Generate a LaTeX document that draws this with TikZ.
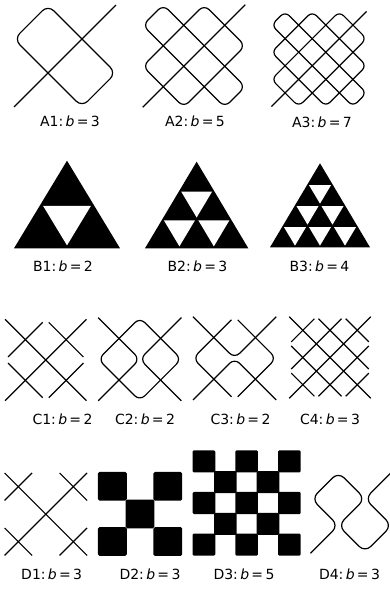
\documentclass[tikz,border=0pt]{standalone}
\usepackage{fontspec}
\setmainfont{DejaVu Sans}
\newcommand\sierptri[6]{%
  \fill (#1,#2) -- ({#1+#3},#2) -- ({#1+#3/2},{#2-#4}) -- cycle;
  \pgfmathtruncatemacro\sierpnm{#5-2}%
  \foreach \jj in {0,...,\sierpnm}{%
    \pgfmathtruncatemacro\sierpim{#5-2-\jj}%
    \foreach \ii in {0,...,\sierpim}{%
      \pgfmathsetmacro\cxx{#1+(\ii+\jj/2+1)*#3/#5}%
      \pgfmathsetmacro\cyy{#2-(\jj+2/3)*#4/#5}%
      \fill[white] ({\cxx-#6*#3/(2*#5)},{\cyy-#6*#4/(3*#5)}) -- ({\cxx+#6*#3/(2*#5)},{\cyy-#6*#4/(3*#5)}) -- ({\cxx},{\cyy+#6*2*#4/(3*#5)}) -- cycle;
    }}}
\begin{document}
\begin{tikzpicture}[x=1pt,y=-1pt, line width=1.2pt, line join=round,
  lab/.style={font=\fontsize{14}{16}\selectfont, inner sep=0pt}]
\useasboundingbox (0,0) rectangle (390,591);
% ---------- A row ----------
\begin{scope}[shift={(65,56)}, rotate=45, x=48pt, y=-48pt]
  \draw[rounded corners=8pt] (-0.5,-1) rectangle (0.5,1);
  \draw (-1.5,0) -- (1.5,0);
\end{scope}
\begin{scope}[shift={(194,56)}, rotate=45, x=29pt, y=-29pt]
  \draw[rounded corners=7pt] (-0.5,-2) rectangle (0.5,2);
  \draw[rounded corners=7pt] (-1.5,-1) rectangle (1.5,1);
  \draw (-2.5,0) -- (2.5,0);
\end{scope}
\begin{scope}[shift={(319,59)}, rotate=45, x=19.2pt, y=-19.2pt]
  \draw[rounded corners=6pt] (-0.5,-3) rectangle (0.5,3);
  \draw[rounded corners=6pt] (-1.5,-2) rectangle (1.5,2);
  \draw[rounded corners=6pt] (-2.5,-1) rectangle (2.5,1);
  \draw (-3.5,0) -- (3.5,0);
\end{scope}
\node[lab] (la1) at (70,121) {A1:\,\textit{b}\,=\,3};
\node[lab] (la2) at (195,121) {A2:\,\textit{b}\,=\,5};
\node[lab] (la3) at (322,122) {A3:\,\textit{b}\,=\,7};
% ---------- B row ----------
\sierptri{14}{248.3}{106}{87.6}{2}{0.9}
\sierptri{145}{248.3}{103.3}{86.6}{3}{0.9}
\sierptri{270}{247.3}{100}{84}{4}{0.88}
\node[lab] (lb1) at (63,266) {B1:\,\textit{b}\,=\,2};
\node[lab] (lb2) at (197.5,266) {B2:\,\textit{b}\,=\,3};
\node[lab] (lb3) at (319.5,266) {B3:\,\textit{b}\,=\,4};
% ---------- C row ----------
\begin{scope}[shift={(45.7,360)}, x=20.35pt, y=-20.35pt]
  \draw (-2,-2) -- (2,2);
  \draw (2,-2) -- (-2,2);
  \draw (-0.15,-1.85) -- (-1.85,-0.15);
  \draw (0.15,-1.85) -- (1.85,-0.15);
  \draw (-1.85,0.15) -- (-0.15,1.85);
  \draw (1.85,0.15) -- (0.15,1.85);
\end{scope}
\begin{scope}[shift={(139.8,359.2)}, x=20.8pt, y=-20.8pt]
  \draw[rounded corners=7pt] (0,-2) -- (2,0) -- (0,2) -- (-2,0) -- cycle;
  \draw[rounded corners=7pt] (-2,-2) -- (0,0) -- (-2,2);
  \draw[rounded corners=7pt] (2,-2) -- (0,0) -- (2,2);
\end{scope}
\begin{scope}[shift={(234.6,358.3)}, x=20.8pt, y=-20.8pt]
  \draw[rounded corners=7pt] (-2,-2) -- (0,0) -- (2,-2);
  \draw[rounded corners=7pt] (-2,2) -- (0,0) -- (2,2);
  \draw[rounded corners=7pt] (-0.15,-1.85) -- (-2,0) -- (-0.15,1.85);
  \draw[rounded corners=7pt] (0.15,-1.85) -- (2,0) -- (0.15,1.85);
\end{scope}
\begin{scope}[shift={(330,357.5)}, x=13.6pt, y=-13.6pt]
  \draw (-3,-3) -- (3,3);
  \draw (-0.85,-2.85) -- (2.85,0.85);
  \draw (1.15,-2.85) -- (2.85,-1.15);
  \draw (-2.85,-0.85) -- (0.85,2.85);
  \draw (-2.85,1.15) -- (-1.15,2.85);
  \draw (-3,3) -- (3,-3);
  \draw (-0.85,2.85) -- (2.85,-0.85);
  \draw (1.15,2.85) -- (2.85,1.15);
  \draw (-2.85,0.85) -- (0.85,-2.85);
  \draw (-2.85,-1.15) -- (-1.15,-2.85);
\end{scope}
\node[lab] (lc1) at (62.5,419) {C1:\,\textit{b}\,=\,2};
\node[lab] (lc2) at (145,419) {C2:\,\textit{b}\,=\,2};
\node[lab] (lc3) at (240.5,419) {C3:\,\textit{b}\,=\,2};
\node[lab] (lc4) at (330,419) {C4:\,\textit{b}\,=\,3};
% ---------- D row ----------
\begin{scope}[shift={(45.85,514.2)}, x=27.5pt, y=-27.5pt]
  \draw (-1.5,-1.5) -- (1.5,1.5);
  \draw (1.5,-1.5) -- (-1.5,1.5);
  \draw (-0.5,-1.5) -- (-1.5,-0.5);
  \draw (0.5,-1.5) -- (1.5,-0.5);
  \draw (-1.5,0.5) -- (-0.5,1.5);
  \draw (1.5,0.5) -- (0.5,1.5);
\end{scope}
\begin{scope}[shift={(98.5,472.5)}, x=27.7pt, y=-27.6pt]
  \foreach \i/\j in {0/0,2/0,1/1,0/2,2/2}
    \fill[rounded corners=1.5pt] ({\i-0.02},{\j-0.02}) rectangle ({\i+1.02},{\j+1.02});
\end{scope}
\begin{scope}[shift={(193.3,451)}, x=21.35pt, y=-20.8pt]
  \foreach \i in {0,...,4}
    \foreach \j in {0,...,4}{
      \pgfmathtruncatemacro\cellpar{mod(\i+\j,2)}
      \ifnum\cellpar=0
        \fill[rounded corners=1.2pt] ({\i-0.03},{\j-0.03}) rectangle ({\i+1.03},{\j+1.03});
      \fi}
\end{scope}
\coordinate (T1) at (338.3,472.1);
\coordinate (L1) at (311.6,498.8);
\coordinate (WR) at (365,498.8);
\coordinate (WL) at (338.3,525.5);
\coordinate (B2) at (365,552.2);
\coordinate (R2) at (391.7,525.5);
\coordinate (E1) at (310.5,553.3);
\coordinate (E2) at (392.8,471);
\draw[rounded corners=8pt] (E1) -- (WL) -- (L1) -- (T1) -- (WR) -- (WL) -- (B2) -- (R2) -- (WR) -- (E2);
\node[lab] (ld1) at (51.7,574) {D1:\,\textit{b}\,=\,3};
\node[lab] (ld2) at (150,574) {D2:\,\textit{b}\,=\,3};
\node[lab] (ld3) at (244,574) {D3:\,\textit{b}\,=\,5};
\node[lab] (ld4) at (349.5,574) {D4:\,\textit{b}\,=\,3};
\end{tikzpicture}
\end{document}
